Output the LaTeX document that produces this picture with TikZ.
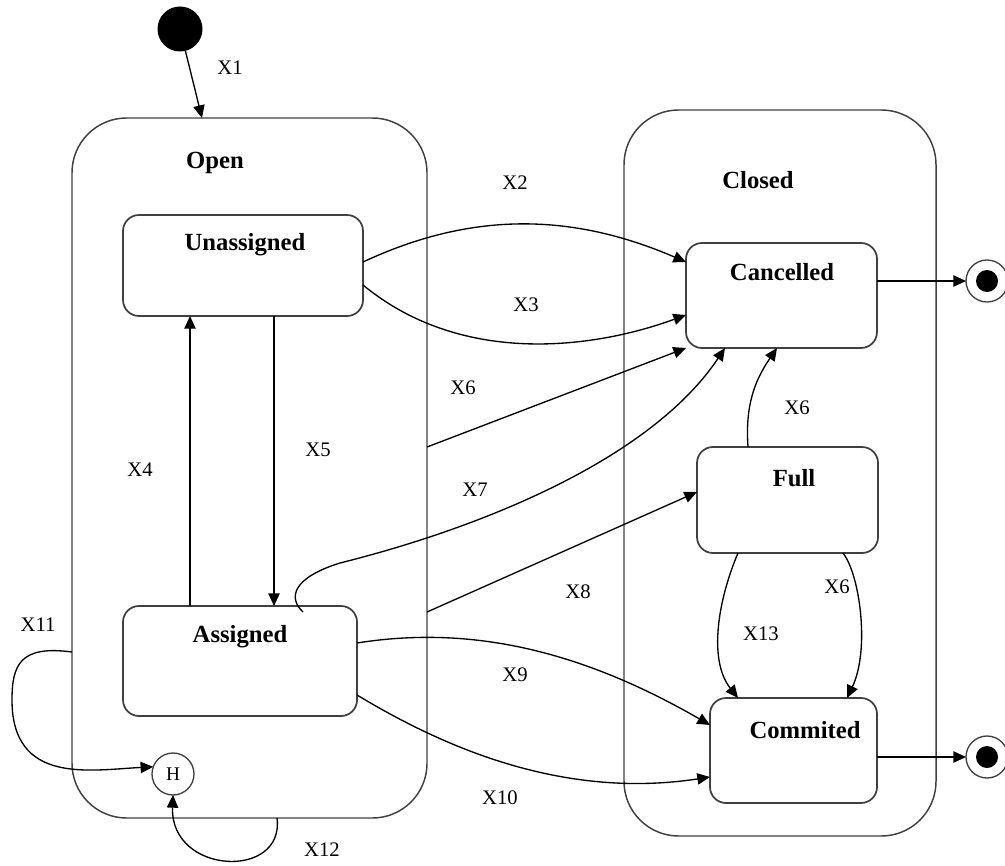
\documentclass[tikz,border=0pt]{standalone}
\usepackage{fontspec}
\setmainfont{Liberation Serif}
\usetikzlibrary{arrows.meta,calc}
\definecolor{Frame}{HTML}{404040}

\begin{document}
\begin{tikzpicture}[
  x=0.75pt,y=-0.75pt,
  super/.style={draw=Frame,line width=1.1pt,rounded corners=41pt,inner sep=0pt,outer sep=0pt},
  box/.style={draw=Frame,line width=1.3pt,rounded corners=12pt,inner sep=0pt,outer sep=0pt},
  dot/.style={circle,fill=black,inner sep=0pt,outer sep=0pt},
  title/.style={font=\fontsize{18.5}{20}\selectfont\bfseries},
  lbl/.style={font=\fontsize{15.5}{17}\selectfont},
  arr/.style={-{Triangle[length=9.5pt,width=8.5pt]},line width=1pt}]
\useasboundingbox (0,0) rectangle (1005,866);
% superstates
\node[super,minimum width=266.25pt,minimum height=525pt] (open) at (249.5,468) {};
\node[super,minimum width=234pt,minimum height=544.5pt] (closed) at (780,473) {};
\node[title] (openlbl) at (215,163) {Open};
\node[title] (closedlbl) at (758,180) {Closed};
% states
\node[box,minimum width=180pt,minimum height=75.75pt] (unass) at (243,265.5) {};
\node[box,minimum width=175.5pt,minimum height=82.5pt] (assig) at (240,661) {};
\node[box,minimum width=143.25pt,minimum height=78.75pt] (canc) at (781.5,295.5) {};
\node[box,minimum width=135.75pt,minimum height=79.5pt] (full) at (787.5,500) {};
\node[box,minimum width=125.25pt,minimum height=78.75pt] (commit) at (793.5,750.5) {};
\node[title] (unasslbl) at (245,245) {Unassigned};
\node[title] (assiglbl) at (240,637) {Assigned};
\node[title] (canclbl) at (782,272) {Cancelled};
\node[title] (fulllbl) at (794,478) {Full};
\node[title] (commitlbl) at (805,730) {Commited};
% pseudo states
\node[dot,minimum size=33.75pt] (init) at (180,29) {};
\node[circle,draw=Frame,line width=1pt,minimum size=31.5pt,inner sep=0pt,outer sep=0pt,
  font=\fontsize{14.5}{16}\selectfont] (hist) at (173,774) {H};
\node[circle,draw=Frame,line width=1pt,minimum size=31.5pt,inner sep=0pt,outer sep=0pt] (fin1) at (987,281) {};
\node[dot,minimum size=16.5pt] (fin1dot) at (fin1) {};
\node[circle,draw=Frame,line width=1pt,minimum size=31.5pt,inner sep=0pt,outer sep=0pt] (fin2) at (987,757) {};
\node[dot,minimum size=16.5pt] (fin2dot) at (fin2) {};
% transitions
\draw[arr] (init) -- ($(open.north)+(-47.5,0)$);
\draw[arr] ($(unass.east)+(0,-3.5)$) .. controls (470,212) and (570,212) .. ($(canc.west)+(0,-33.5)$);
\draw[arr] ($(unass.east)+(0,19.5)$) .. controls (460,365) and (590,350) .. ($(canc.west)+(0,19.5)$);
\draw[arr] ($(assig.north)+(-50,0)$) -- ($(unass.south)+(-53,0)$);
\draw[arr] ($(unass.south)+(31,0)$) -- ($(assig.north)+(34,0)$);
\draw[arr] ($(open.east)+(0,-21)$) -- (canc.south west);
\draw[arr] ($(assig.north)+(63,6)$) .. controls (288,598) and (292,578) .. (340,563)
  .. controls (480,528) and (650,460) .. ($(canc.south)+(-56.5,0)$);
\draw[arr] ($(full.north)+(-39.5,0)$) .. controls (745,405) and (755,380) .. ($(canc.south)+(-4.5,0)$);
\draw[arr] ($(open.east)+(0,144)$) -- ($(full.west)+(0,-8)$);
\draw[arr] ($(assig.east)+(0,-18)$) .. controls (470,625) and (580,650) .. ($(commit.west)+(0,-25.5)$);
\draw[arr] ($(assig.east)+(0,34)$) .. controls (440,745) and (560,800) .. ($(commit.west)+(0,26.5)$);
\draw[arr] ($(full.south)+(-49.5,0)$) .. controls (718,600) and (708,660) .. ($(commit.north)+(-55.5,0)$);
\draw[arr] ($(full.south)+(55.5,0)$) .. controls (860,575) and (870,650) .. ($(commit.north)+(53.5,0)$);
\draw[arr] ($(open.west)+(0,184)$) .. controls (20,645) and (12,665) .. (12,700)
  .. controls (12,785) and (90,770) .. (hist.160);
\draw[arr] ($(open.south)+(27.5,0)$) .. controls (285,880) and (170,875) .. (hist.south);
\draw[arr] (canc.east |- fin1) -- (fin1);
\draw[arr] (commit.east |- fin2) -- (fin2);
% transition labels
\node[lbl] (x1) at (230,68) {X1};
\node[lbl] (x2) at (515,183) {X2};
\node[lbl] (x3) at (526,305) {X3};
\node[lbl] (x4) at (140,470) {X4};
\node[lbl] (x5) at (318,450) {X5};
\node[lbl] (x6a) at (463,388) {X6};
\node[lbl] (x7) at (475,490) {X7};
\node[lbl] (x6b) at (797,408) {X6};
\node[lbl] (x8) at (578,592) {X8};
\node[lbl] (x9) at (515,675) {X9};
\node[lbl] (x10) at (500,798) {X10};
\node[lbl] (x13) at (761,634) {X13};
\node[lbl] (x6c) at (837,587) {X6};
\node[lbl] (x11) at (38,625) {X11};
\node[lbl] (x12) at (322,850) {X12};
\end{tikzpicture}
\end{document}
